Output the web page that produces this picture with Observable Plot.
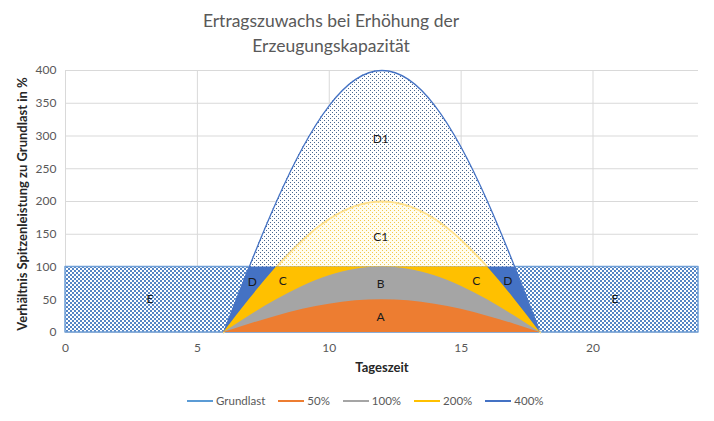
<!DOCTYPE html>
<html><head><meta charset="utf-8">
<script src="https://cdn.jsdelivr.net/npm/d3@7"></script>
<script src="https://cdn.jsdelivr.net/npm/@observablehq/plot@0.6"></script>
<style>
body{margin:0;background:#fff;}
#wrap{position:relative;width:714px;height:421px;overflow:hidden;font-family:Lato,"Open Sans",sans-serif;}
#chart{position:absolute;left:0;top:0;}
#title{position:absolute;left:0;width:662px;top:8px;text-align:center;font-size:17.5px;color:#595959;line-height:25px;}
#xtitle{position:absolute;left:282px;width:200px;top:359px;text-align:center;font-size:13px;font-weight:bold;color:#262626;}
#ytitle{position:absolute;left:-128px;width:300px;top:196px;text-align:center;font-size:13px;font-weight:bold;color:#262626;transform:rotate(-90deg);}
#legend{position:absolute;left:187px;top:394px;display:flex;gap:13px;font-size:11.5px;color:#595959;}
#legend .it{display:flex;align-items:center;gap:3px;}
#legend i{display:inline-block;width:26px;height:2px;}
</style></head>
<body>
<div id="wrap">
  <div id="chart"></div>
  <div id="title">Ertragszuwachs bei Erhöhung der<br>Erzeugungskapazität</div>
  <div id="xtitle">Tageszeit</div>
  <div id="ytitle">Verhältnis Spitzenleistung zu Grundlast in %</div>
  <div id="legend"></div>
</div>
<script>
// ---- data ----
const hours = [6,7,8,9,10,11,12,13,14,15,16,17,18];
const p50  = [0,12.9,25,35.4,43.3,48.3,50,48.3,43.3,35.4,25,12.9,0];
const p100 = [0,25.9,50,70.7,86.6,96.6,100,96.6,86.6,70.7,50,25.9,0];
const p200 = [0,51.8,100,141.4,173.2,193.2,200,193.2,173.2,141.4,100,51.8,0];
const p400 = [0,103.5,200,282.8,346.4,386.4,400,386.4,346.4,282.8,200,103.5,0];
const grundHours = [0,24];
const grund = [100,100];
const xTicks = [0,5,10,15,20];
const yTicks = [0,50,100,150,200,250,300,350,400];
const labelText = ["E","D","C","B","A","C","D","E","C1","D1"];
const labelX = [3.2,7.08,8.24,11.95,11.95,15.57,16.77,20.83,11.95,11.95];
const labelY = [51,77,78,74,23,78,78,51,145,295];
const legendNames = ["Grundlast","50%","100%","200%","400%"];
const legendColors = ["#5B9BD5","#ED7D31","#A5A5A5","#FFC000","#4472C4"];

const rows = hours.map((h,i)=>({h, p50:p50[i], p100:p100[i], p200:p200[i], p400:p400[i]}));
const grows = grundHours.map((h,i)=>({h, v:grund[i]}));
const labels = labelText.map((t,i)=>({t, x:labelX[i], y:labelY[i]}));
const curve = "natural";

const plot = Plot.plot({
  width:714, height:421,
  marginLeft:65, marginRight:16, marginTop:70, marginBottom:89,
  style:{fontFamily:"Lato, 'Open Sans', sans-serif", fontSize:"12px", color:"#595959", background:"transparent"},
  x:{domain:[0,24], ticks:xTicks, label:null, tickSize:0, tickPadding:11},
  y:{domain:[0,400], ticks:yTicks, label:null, tickSize:0, tickPadding:9},
  marks:[
    Plot.gridX(xTicks,{stroke:"#d9d9d9", strokeOpacity:1}),
    Plot.gridY(yTicks,{stroke:"#d9d9d9", strokeOpacity:1}),
    Plot.areaY(grows,{x:"h", y:"v", fill:"url(#chk)", stroke:"#6f9fd6", strokeWidth:1.5}),
    Plot.areaY(rows,{x:"h", y:"p400", fill:"url(#dotB)", curve}),
    Plot.areaY(rows,{x:"h", y:"p200", fill:"url(#dotY)", curve}),
    Plot.line(rows,{x:"h", y:"p400", stroke:"#4472C4", strokeWidth:1.3, curve}),
    Plot.line(rows,{x:"h", y:"p200", stroke:"#FFE08A", strokeWidth:1.8, curve}),
    Plot.areaY(rows,{x:"h", y:"p400", fill:"#4472C4", curve}),
    Plot.areaY(rows,{x:"h", y:"p200", fill:"#FFC000", curve}),
    Plot.areaY(rows,{x:"h", y:"p100", fill:"#A5A5A5", curve}),
    Plot.areaY(rows,{x:"h", y:"p50", fill:"#ED7D31", curve}),
    Plot.text(labels,{x:"x", y:"y", text:"t", fill:"#1a1a1a", fontSize:12}),
    Plot.axisX({ticks:xTicks, tickSize:0, tickPadding:11, label:null}),
    Plot.axisY({ticks:yTicks, tickSize:0, tickPadding:9, label:null})
  ]
});
document.getElementById("chart").appendChild(plot);

// patterns and clipping at the Grundlast level
const svg = d3.select(plot);
const defs = svg.insert("defs", ":first-child");
const chk = defs.append("pattern").attr("id","chk").attr("width",4).attr("height",4).attr("patternUnits","userSpaceOnUse");
chk.append("rect").attr("width",4).attr("height",4).attr("fill","#ffffff");
chk.append("rect").attr("width",2).attr("height",2).attr("fill","#5585c4");
chk.append("rect").attr("x",2).attr("y",2).attr("width",2).attr("height",2).attr("fill","#5585c4");
const db = defs.append("pattern").attr("id","dotB").attr("width",4).attr("height",4).attr("patternUnits","userSpaceOnUse");
db.append("rect").attr("width",4).attr("height",4).attr("fill","#ffffff");
db.append("rect").attr("width",1).attr("height",1).attr("fill","#4a6890");
db.append("rect").attr("x",2).attr("y",2).attr("width",1).attr("height",1).attr("fill","#4a6890");
const dy = defs.append("pattern").attr("id","dotY").attr("width",4).attr("height",4).attr("patternUnits","userSpaceOnUse");
dy.append("rect").attr("width",4).attr("height",4).attr("fill","#fffdf0");
dy.append("rect").attr("width",1).attr("height",1).attr("fill","#f2c94c");
dy.append("rect").attr("x",2).attr("y",2).attr("width",1).attr("height",1).attr("fill","#f2c94c");

const xs = plot.scale("x"), ys = plot.scale("y");
defs.append("clipPath").attr("id","clip100").append("rect")
  .attr("x", xs.apply(0)).attr("y", ys.apply(100))
  .attr("width", xs.apply(24)-xs.apply(0)).attr("height", ys.apply(0)-ys.apply(100));
const areas = svg.selectAll('g[aria-label="area"]').nodes();
[3,4].forEach(i=>{ if (areas[i]) areas[i].setAttribute("clip-path","url(#clip100)"); });

// legend
const leg = d3.select("#legend");
legendNames.forEach((n,i)=>{
  const it = leg.append("span").attr("class","it");
  it.append("i").style("background", legendColors[i]);
  it.append("span").text(n);
});
</script>
</body></html>
